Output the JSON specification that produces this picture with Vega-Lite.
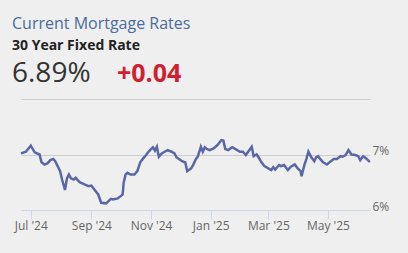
{
  "$schema": "https://vega.github.io/schema/vega-lite/v6.json",
  "width": 349,
  "height": 111,
  "autosize": "none",
  "padding": {"left": 21, "top": 99, "right": 38, "bottom": 43},
  "background": "#efefef",
  "config": {"view": {"stroke": null}, "font": "Open Sans"},
  "title": {
    "text": "Current Mortgage Rates",
    "subtitle": "30 Year Fixed Rate",
    "anchor": "start",
    "frame": "group",
    "dx": -9,
    "offset": 7,
    "font": "Open Sans",
    "fontSize": 16,
    "fontWeight": "normal",
    "color": "#4b6c9c",
    "subtitleFont": "Open Sans",
    "subtitleFontSize": 14,
    "subtitleFontWeight": "bold",
    "subtitleColor": "#222222",
    "subtitlePadding": 7
  },
  "layer": [
    {
      "data": {"values": [
        {"date": "2024-06-21", "rate": 7.02},
        {"date": "2024-06-26", "rate": 7.05},
        {"date": "2024-07-01", "rate": 7.16},
        {"date": "2024-07-05", "rate": 7.04},
        {"date": "2024-07-10", "rate": 7.00},
        {"date": "2024-07-12", "rate": 6.86},
        {"date": "2024-07-15", "rate": 6.82},
        {"date": "2024-07-18", "rate": 6.84},
        {"date": "2024-07-21", "rate": 6.90},
        {"date": "2024-07-24", "rate": 6.92},
        {"date": "2024-07-26", "rate": 6.88},
        {"date": "2024-07-31", "rate": 6.70},
        {"date": "2024-08-02", "rate": 6.55},
        {"date": "2024-08-05", "rate": 6.36},
        {"date": "2024-08-07", "rate": 6.57},
        {"date": "2024-08-09", "rate": 6.64},
        {"date": "2024-08-11", "rate": 6.57},
        {"date": "2024-08-14", "rate": 6.55},
        {"date": "2024-08-16", "rate": 6.58},
        {"date": "2024-08-20", "rate": 6.50},
        {"date": "2024-08-25", "rate": 6.46},
        {"date": "2024-08-29", "rate": 6.43},
        {"date": "2024-09-01", "rate": 6.44},
        {"date": "2024-09-04", "rate": 6.37},
        {"date": "2024-09-08", "rate": 6.28},
        {"date": "2024-09-11", "rate": 6.13},
        {"date": "2024-09-16", "rate": 6.12},
        {"date": "2024-09-21", "rate": 6.20},
        {"date": "2024-09-23", "rate": 6.19},
        {"date": "2024-09-28", "rate": 6.21},
        {"date": "2024-10-01", "rate": 6.25},
        {"date": "2024-10-03", "rate": 6.28},
        {"date": "2024-10-04", "rate": 6.49},
        {"date": "2024-10-06", "rate": 6.64},
        {"date": "2024-10-08", "rate": 6.67},
        {"date": "2024-10-11", "rate": 6.64},
        {"date": "2024-10-15", "rate": 6.64},
        {"date": "2024-10-18", "rate": 6.70},
        {"date": "2024-10-21", "rate": 6.86},
        {"date": "2024-10-24", "rate": 6.93},
        {"date": "2024-10-27", "rate": 6.99},
        {"date": "2024-10-29", "rate": 7.04},
        {"date": "2024-10-31", "rate": 7.08},
        {"date": "2024-11-03", "rate": 7.13},
        {"date": "2024-11-05", "rate": 7.07},
        {"date": "2024-11-07", "rate": 7.14},
        {"date": "2024-11-09", "rate": 6.96},
        {"date": "2024-11-12", "rate": 7.02},
        {"date": "2024-11-15", "rate": 7.05},
        {"date": "2024-11-18", "rate": 7.08},
        {"date": "2024-11-22", "rate": 7.05},
        {"date": "2024-11-25", "rate": 7.02},
        {"date": "2024-11-27", "rate": 6.95},
        {"date": "2024-12-01", "rate": 6.90},
        {"date": "2024-12-04", "rate": 6.87},
        {"date": "2024-12-06", "rate": 6.86},
        {"date": "2024-12-08", "rate": 6.70},
        {"date": "2024-12-12", "rate": 6.75},
        {"date": "2024-12-14", "rate": 6.81},
        {"date": "2024-12-17", "rate": 6.92},
        {"date": "2024-12-19", "rate": 6.97},
        {"date": "2024-12-22", "rate": 7.14},
        {"date": "2024-12-24", "rate": 7.05},
        {"date": "2024-12-26", "rate": 7.13},
        {"date": "2024-12-28", "rate": 7.10},
        {"date": "2024-12-31", "rate": 7.08},
        {"date": "2025-01-04", "rate": 7.11},
        {"date": "2025-01-08", "rate": 7.17},
        {"date": "2025-01-12", "rate": 7.26},
        {"date": "2025-01-14", "rate": 7.25},
        {"date": "2025-01-16", "rate": 7.10},
        {"date": "2025-01-19", "rate": 7.08},
        {"date": "2025-01-23", "rate": 7.13},
        {"date": "2025-01-26", "rate": 7.10},
        {"date": "2025-01-31", "rate": 7.05},
        {"date": "2025-02-03", "rate": 7.05},
        {"date": "2025-02-06", "rate": 6.99},
        {"date": "2025-02-08", "rate": 7.04},
        {"date": "2025-02-12", "rate": 7.14},
        {"date": "2025-02-14", "rate": 6.97},
        {"date": "2025-02-17", "rate": 7.00},
        {"date": "2025-02-19", "rate": 6.95},
        {"date": "2025-02-22", "rate": 6.86},
        {"date": "2025-02-25", "rate": 6.79},
        {"date": "2025-03-01", "rate": 6.75},
        {"date": "2025-03-04", "rate": 6.72},
        {"date": "2025-03-06", "rate": 6.77},
        {"date": "2025-03-08", "rate": 6.73},
        {"date": "2025-03-12", "rate": 6.81},
        {"date": "2025-03-14", "rate": 6.79},
        {"date": "2025-03-17", "rate": 6.81},
        {"date": "2025-03-21", "rate": 6.72},
        {"date": "2025-03-24", "rate": 6.78},
        {"date": "2025-03-28", "rate": 6.82},
        {"date": "2025-03-31", "rate": 6.75},
        {"date": "2025-04-03", "rate": 6.70},
        {"date": "2025-04-04", "rate": 6.61},
        {"date": "2025-04-07", "rate": 6.82},
        {"date": "2025-04-09", "rate": 6.92},
        {"date": "2025-04-11", "rate": 7.05},
        {"date": "2025-04-14", "rate": 6.95},
        {"date": "2025-04-17", "rate": 6.88},
        {"date": "2025-04-19", "rate": 6.95},
        {"date": "2025-04-21", "rate": 6.97},
        {"date": "2025-04-23", "rate": 6.92},
        {"date": "2025-04-26", "rate": 6.86},
        {"date": "2025-04-30", "rate": 6.82},
        {"date": "2025-05-04", "rate": 6.88},
        {"date": "2025-05-07", "rate": 6.92},
        {"date": "2025-05-10", "rate": 6.92},
        {"date": "2025-05-14", "rate": 6.97},
        {"date": "2025-05-16", "rate": 6.96},
        {"date": "2025-05-19", "rate": 6.99},
        {"date": "2025-05-22", "rate": 7.08},
        {"date": "2025-05-25", "rate": 7.00},
        {"date": "2025-05-29", "rate": 6.99},
        {"date": "2025-06-01", "rate": 6.97},
        {"date": "2025-06-03", "rate": 6.90},
        {"date": "2025-06-06", "rate": 6.97},
        {"date": "2025-06-09", "rate": 6.93},
        {"date": "2025-06-12", "rate": 6.88},
        {"date": "2025-06-13", "rate": 6.89}
      ]},
      "mark": {"type": "line", "color": "#5b66a7", "strokeWidth": 2.5},
      "encoding": {
        "x": {
          "field": "date",
          "type": "temporal",
          "scale": {"domain": [
            {"year": 2024, "month": 6, "date": 21},
            {"year": 2025, "month": 6, "date": 13}
          ]},
          "axis": {
            "title": null,
            "values": [
              {"year": 2024, "month": 7, "date": 1},
              {"year": 2024, "month": 9, "date": 1},
              {"year": 2024, "month": 11, "date": 1},
              {"year": 2025, "month": 1, "date": 1},
              {"year": 2025, "month": 3, "date": 1},
              {"year": 2025, "month": 5, "date": 1}
            ],
            "format": "%b '%y",
            "grid": false,
            "domainColor": "#ccd6eb",
            "tickColor": "#ccd6eb",
            "tickSize": 9,
            "labelPadding": 1,
            "labelColor": "#666666",
            "labelFontSize": 12,
            "labelFont": "Open Sans",
            "labelFlush": false,
            "labelOverlap": false
          }
        },
        "y": {
          "field": "rate",
          "type": "quantitative",
          "scale": {"domain": [6, 8], "nice": false, "zero": false},
          "axis": {
            "orient": "right",
            "title": null,
            "values": [6, 7, 8],
            "domain": false,
            "ticks": false,
            "labelPadding": 2,
            "labelBaseline": "alphabetic",
            "labelExpr": "datum.value == 8 ? '' : datum.value + '%'",
            "labelColor": "#666666",
            "labelFontSize": 12,
            "labelFont": "Open Sans",
            "gridColor": {"condition": {"test": "datum.value == 6", "value": "#ccd6eb"}, "value": "#cccccc"}
          }
        }
      }
    },
    {
      "data": {"values": [{"rate_label": "6.89%", "change_label": "+0.04"}]},
      "layer": [
        {
          "mark": {"type": "text", "align": "left", "baseline": "alphabetic", "dx": -9, "fontSize": 28, "color": "#333333", "font": "Open Sans"},
          "encoding": {
            "x": {"datum": {"year": 2024, "month": 6, "date": 21}, "type": "temporal"},
            "y": {"datum": 8.3, "type": "quantitative"},
            "text": {"field": "rate_label"}
          }
        },
        {
          "mark": {"type": "text", "align": "left", "baseline": "alphabetic", "dx": 96, "fontSize": 25, "fontWeight": "bold", "color": "#d0202f", "font": "Open Sans"},
          "encoding": {
            "x": {"datum": {"year": 2024, "month": 6, "date": 21}, "type": "temporal"},
            "y": {"datum": 8.3, "type": "quantitative"},
            "text": {"field": "change_label"}
          }
        }
      ]
    }
  ]
}
